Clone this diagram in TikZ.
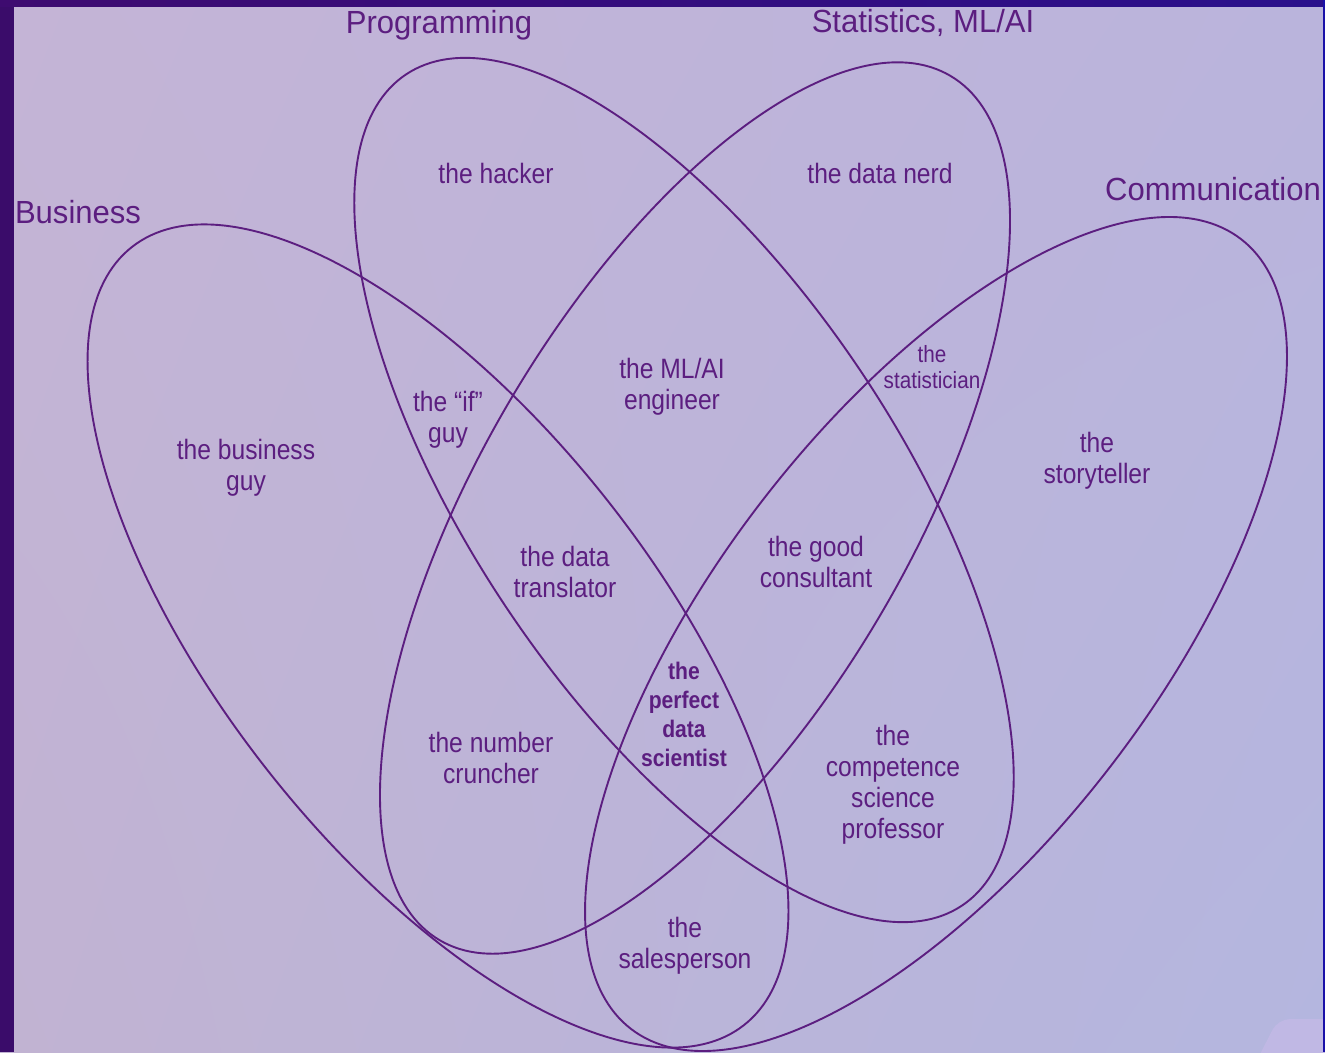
\documentclass[tikz,border=0pt]{standalone}
\usepackage{fontspec}
\usetikzlibrary{shadings}
\setmainfont{Liberation Sans}
\newfontfamily\headfont{Liberation Sans}[FakeStretch=0.97]
\newfontfamily\regionfont{Liberation Sans}[FakeStretch=0.88]

\definecolor{ink}{RGB}{92,30,128}
\definecolor{bgUL}{RGB}{196,180,214}
\definecolor{bgUR}{RGB}{186,180,220}
\definecolor{bgLL}{RGB}{193,179,210}
\definecolor{bgLR}{RGB}{180,182,223}
\definecolor{frameL}{RGB}{58,12,106}
\definecolor{frameTL}{RGB}{62,11,112}
\definecolor{frameTR}{RGB}{42,16,140}
\definecolor{frameR}{RGB}{26,16,168}
\definecolor{patchcol}{RGB}{192,184,228}

\begin{document}
\begin{tikzpicture}[x=1pt,y=-1pt,
  set/.style={draw=ink, line width=1.9pt},
  header/.style={text=ink, inner sep=0pt, font=\headfont\fontsize{32}{36}\selectfont},
  region/.style={text=ink, inner sep=0pt, align=center,
                 font=\regionfont\fontsize{28}{31}\selectfont},
  small region/.style={region, font=\regionfont\fontsize{23.5}{25.5}\selectfont},
  core region/.style={region, font=\regionfont\bfseries\fontsize{24}{29}\selectfont}]

\useasboundingbox (0,0) rectangle (1325,1052);

% background and frame
\shade[upper left=bgUL, upper right=bgUR, lower left=bgLL, lower right=bgLR]
  (0,0) rectangle (1325,1052);
\fill[patchcol, rounded corners=12pt] (1256,1062) -- (1278,1019) -- (1335,1019) -- (1335,1062) -- cycle;
\fill[frameL] (0,0) rectangle (14,1052);
\shade[left color=frameTL, right color=frameTR] (0,0) rectangle (1325,6);
\fill[frameR] (1323,0) rectangle (1325,1052);

% the four sets
\draw[set, rotate around={-51.8:(438,636)}] (438,636) ellipse [x radius=495pt, y radius=217pt]; % business
\draw[set, rotate around={-56.2:(684,490)}] (684,490) ellipse [x radius=500pt, y radius=213pt]; % programming
\draw[set, rotate around={59.4:(695,508)}]  (695,508) ellipse [x radius=502pt, y radius=214pt]; % statistics
\draw[set, rotate around={52.3:(936,634)}]  (936,634) ellipse [x radius=499pt, y radius=219pt]; % communication

% set titles
\node[header] (t-prog) at (439,25)  {Programming};
\node[header] (t-stat) at (923,23)  {Statistics, ML/AI};
\node[header] (t-bus)  at (78,212)  {Business};
\node[header] (t-comm) at (1213,189) {Communication};

% region labels
\node[region] (r-hacker)   at (496,173) {the hacker};
\node[region] (r-nerd)     at (880,173) {the data nerd};
\node[region] (r-business) at (246,468) {the business\\guy};
\node[region] (r-if)       at (448,420) {the “if”\\guy};
\node[region] (r-mlai)     at (672,387) {the ML/AI\\engineer};
\node[small region] (r-stat) at (932,367) {the\\statistician};
\node[region] (r-story)    at (1097,461) {the\\storyteller};
\node[region] (r-transl)   at (565,572) {the data\\translator};
\node[region] (r-consult)  at (816,562) {the good\\consultant};
\node[core region] (r-perfect) at (684,714) {the\\perfect\\data\\scientist};
\node[region] (r-number)   at (491,758) {the number\\cruncher};
\node[region] (r-prof)     at (893,785) {the\\competence\\science\\professor};
\node[region] (r-sales)    at (685,946) {the\\salesperson};
\end{tikzpicture}
\end{document}
